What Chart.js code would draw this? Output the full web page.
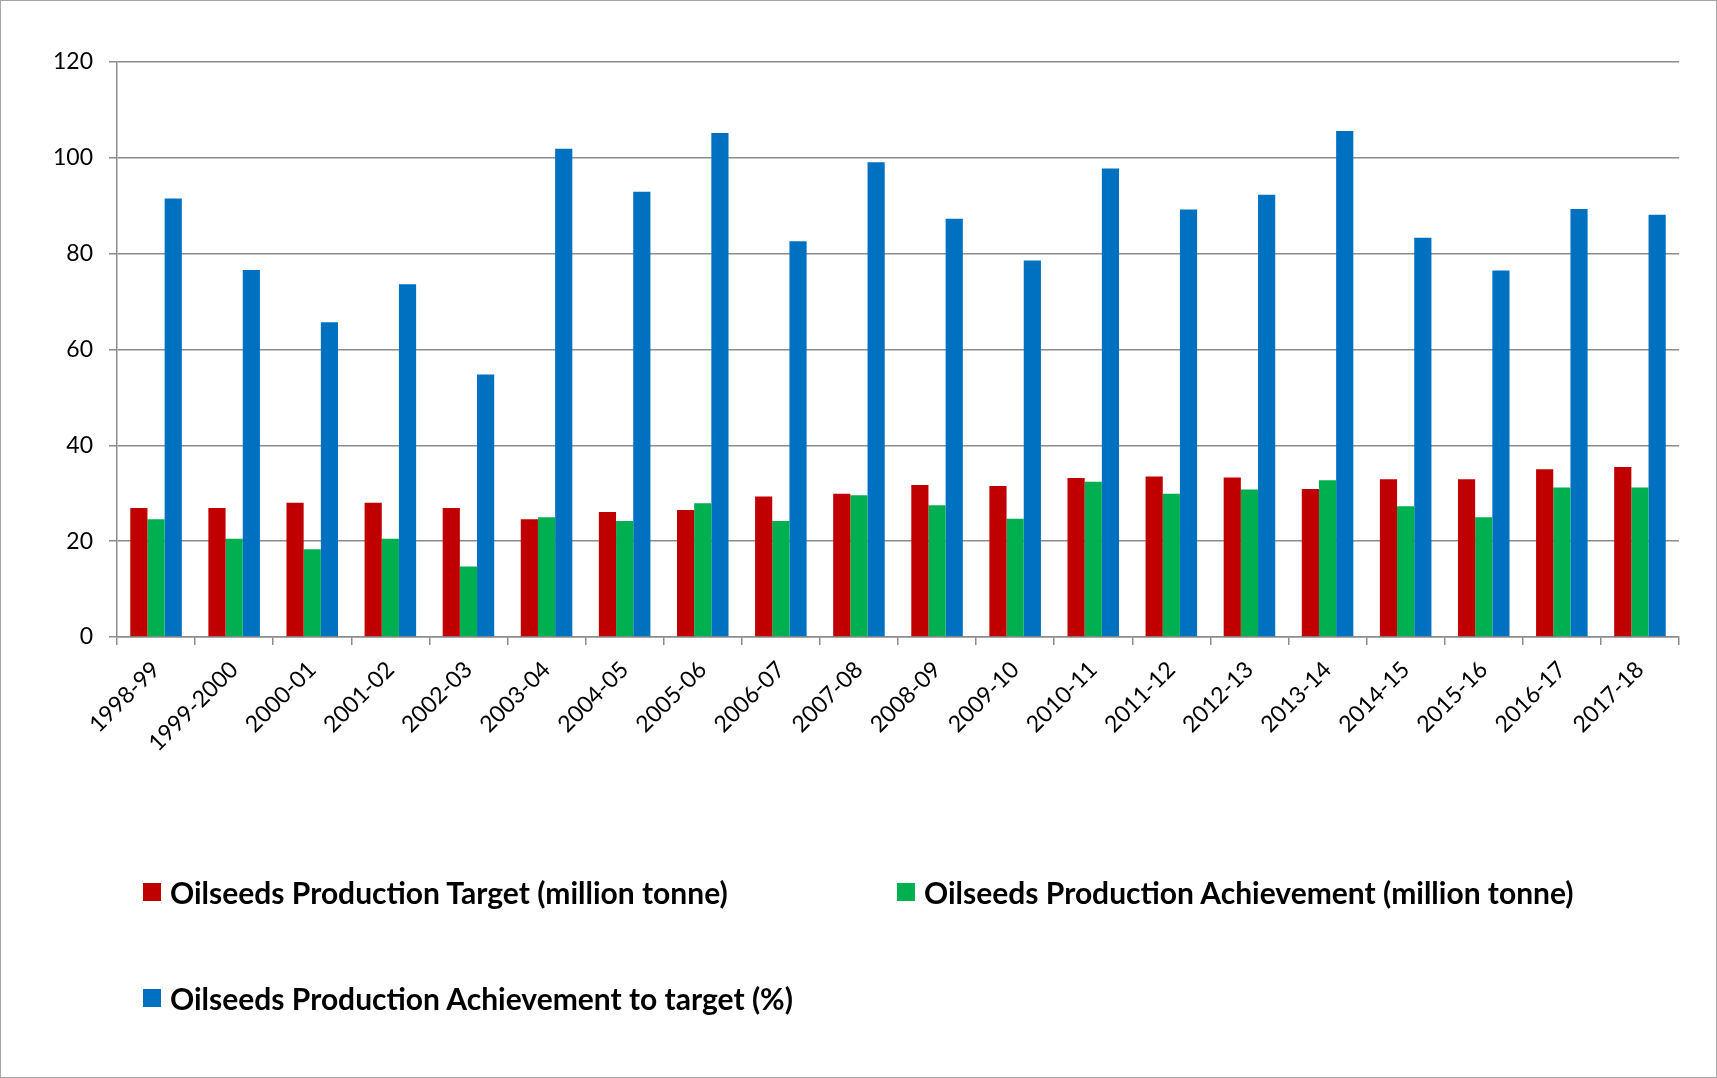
<!DOCTYPE html>
<html>
<head>
<meta charset="utf-8">
<script src="https://cdn.jsdelivr.net/npm/chart.js@4.4.0/dist/chart.umd.min.js"></script>
<style>
  html, body { margin: 0; padding: 0; background: #fff; }
  #wrap {
    position: relative; width: 1717px; height: 1078px;
    box-sizing: border-box; border: 1px solid #a6a6a6; overflow: hidden;
  }
  #chart { position: absolute; left: -1px; top: -1px; }
  .legend-item {
    position: absolute; display: flex; align-items: center;
    font-family: Lato, Carlito, sans-serif; font-weight: bold; font-size: 30px; color: #000;
    white-space: nowrap; line-height: 1;
  }
  .legend-item .box { width: 18px; height: 18px; margin-right: 9px; }
</style>
</head>
<body>
<div id="wrap">
  <canvas id="chart" width="1717" height="1078"></canvas>
  <div id="legend"></div>
</div>
<script>
// 年份（类目）
const years = ['1998-99','1999-2000','2000-01','2001-02','2002-03','2003-04','2004-05','2005-06','2006-07','2007-08',
  '2008-09','2009-10','2010-11','2011-12','2012-13','2013-14','2014-15','2015-16','2016-17','2017-18'];

const target = [26.9, 26.9, 28.0, 28.0, 26.9, 24.6, 26.1, 26.5, 29.3, 29.9,
  31.7, 31.5, 33.2, 33.5, 33.3, 30.9, 32.9, 32.9, 35.0, 35.5];
const achievement = [24.6, 20.5, 18.3, 20.5, 14.7, 25.0, 24.2, 27.9, 24.2, 29.6,
  27.5, 24.7, 32.4, 29.9, 30.8, 32.7, 27.3, 25.0, 31.2, 31.2];
const achievePct = [91.5, 76.6, 65.7, 73.6, 54.8, 101.9, 92.9, 105.2, 82.6, 99.1,
  87.3, 78.6, 97.8, 89.2, 92.3, 105.6, 83.3, 76.5, 89.3, 88.1];

const yTicks = [0, 20, 40, 60, 80, 100, 120];

const seriesNames = [
  'Oilseeds Production Target (million tonne)',
  'Oilseeds Production Achievement (million tonne)',
  'Oilseeds Production Achievement to target (%)'
];
const colors = ['#C00000', '#00B050', '#0070C0'];

const FONT = 'Lato, Carlito, sans-serif';
const gridCol = '#8c8c8c';

const ctx = document.getElementById('chart').getContext('2d');
const chart = new Chart(ctx, {
  type: 'bar',
  data: {
    labels: years,
    datasets: [target, achievement, achievePct].map((d, i) => ({
      label: seriesNames[i],
      data: d,
      backgroundColor: colors[i],
      barPercentage: 1,
      categoryPercentage: 0.66
    }))
  },
  options: {
    responsive: false,
    animation: false,
    devicePixelRatio: 1,
    layout: { padding: { top: 62, right: 38, left: 0, bottom: 0 } },
    plugins: { legend: { display: false }, tooltip: { enabled: false } },
    scales: {
      x: {
        offset: true,
        grid: { display: true, drawOnChartArea: false, offset: true, tickLength: 8, color: gridCol, lineWidth: 1.5 },
        border: { color: gridCol, width: 1.5 },
        ticks: {
          autoSkip: false, minRotation: 45, maxRotation: 45, padding: 11,
          color: '#000', font: { family: FONT, size: 23 }
        },
        afterFit: s => { s.height = 1078 - 637; }
      },
      y: {
        min: 0, max: 120,
        afterBuildTicks: s => { s.ticks = yTicks.map(v => ({ value: v })); },
        grid: { color: gridCol, lineWidth: 1.5, tickLength: 8 },
        border: { color: gridCol, width: 1.5 },
        ticks: { padding: 16, color: '#000', font: { family: FONT, size: 23 } },
        afterFit: s => { s.width = 117; }
      }
    }
  }
});

// 图例（HTML）
const legendPos = [[142, 892], [896, 892], [142, 998]];
const legendEl = document.getElementById('legend');
chart.data.datasets.forEach((ds, i) => {
  const item = document.createElement('div');
  item.className = 'legend-item';
  item.style.left = legendPos[i][0] + 'px';
  item.style.top = (legendPos[i][1] - 16) + 'px';
  item.innerHTML = `<span class="box" style="background:${ds.backgroundColor}"></span><span>${ds.label}</span>`;
  legendEl.appendChild(item);
});
</script>
</body>
</html>
